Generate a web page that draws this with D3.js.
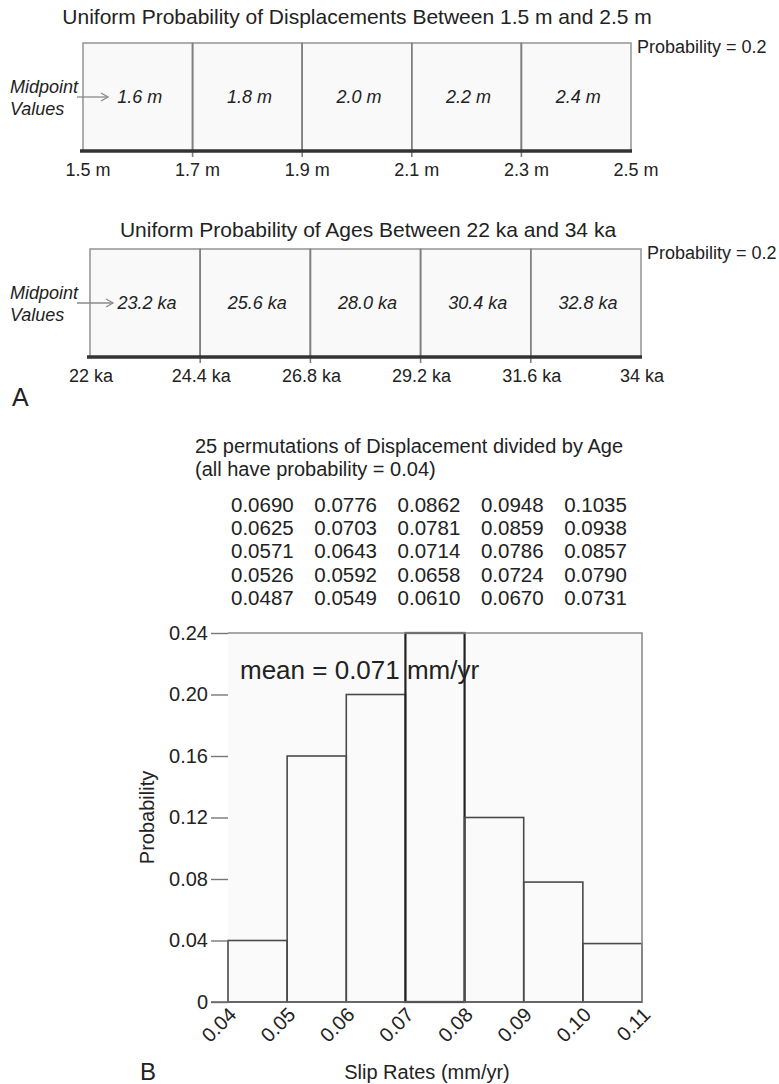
<!DOCTYPE html>
<html>
<head>
<meta charset="utf-8">
<script src="https://cdn.jsdelivr.net/npm/d3@7"></script>
<style>
  html, body { margin: 0; padding: 0; background: #fff; }
  svg { display: block; font-family: "Liberation Sans", Arial, Helvetica, sans-serif; }
</style>
</head>
<body>
<svg id="fig" width="779" height="1084"></svg>
<script>
// ---- Panel A: uniform bins for displacement and age ----
const dispEdges = [1.5, 1.7, 1.9, 2.1, 2.3, 2.5];
const dispMids = [1.6, 1.8, 2.0, 2.2, 2.4];
const ageEdges = [22, 24.4, 26.8, 29.2, 31.6, 34];
const ageMids = [23.2, 25.6, 28.0, 30.4, 32.8];
const binProbability = 0.2;

// ---- Panel B: displacement / age permutations (rows by age, columns by displacement) ----
const slipRateTable = [
  ["0.0690", "0.0776", "0.0862", "0.0948", "0.1035"],
  ["0.0625", "0.0703", "0.0781", "0.0859", "0.0938"],
  ["0.0571", "0.0643", "0.0714", "0.0786", "0.0857"],
  ["0.0526", "0.0592", "0.0658", "0.0724", "0.0790"],
  ["0.0487", "0.0549", "0.0610", "0.0670", "0.0731"]
];
const histBinStarts = [0.04, 0.05, 0.06, 0.07, 0.08, 0.09, 0.10];
const histProbs = [0.04, 0.16, 0.20, 0.24, 0.12, 0.078, 0.038];
const histBinWidth = 0.01;
const slipTicks = [0.04, 0.05, 0.06, 0.07, 0.08, 0.09, 0.10, 0.11];
const probTicks = [0, 0.04, 0.08, 0.12, 0.16, 0.20, 0.24];
const meanSlip = 0.071;

const svg = d3.select("#fig");

// Draws one uniform-probability strip
function uniformStrip(cfg) {
  const g = svg.append("g");
  const x = d3.scaleLinear().domain(cfg.domain).range([cfg.left, cfg.right]);
  const y = d3.scaleLinear().domain([0, binProbability]).range([cfg.base, cfg.top]);

  g.append("text")
    .attr("x", cfg.titleX).attr("y", cfg.titleY)
    .attr("text-anchor", "middle")
    .attr("font-size", 21).attr("fill", "#222")
    .text(cfg.title);

  const bins = d3.pairs(cfg.edges);
  g.selectAll("rect.bin").data(bins).join("rect")
    .attr("class", "bin")
    .attr("x", d => x(d[0])).attr("y", y(binProbability))
    .attr("width", d => x(d[1]) - x(d[0]))
    .attr("height", y(0) - y(binProbability))
    .attr("fill", "#f9f9f9")
    .attr("stroke", "#9a9a9a").attr("stroke-width", 1.6);

  // bin dividers that reach just below the base line
  g.selectAll("line.div").data(cfg.edges.slice(1, -1)).join("line")
    .attr("class", "div")
    .attr("x1", d => x(d)).attr("x2", d => x(d))
    .attr("y1", y(binProbability)).attr("y2", y(0) + 6)
    .attr("stroke", "#808080").attr("stroke-width", 1.6);

  g.append("line")
    .attr("x1", x(cfg.domain[0]) - 3).attr("x2", x(cfg.domain[1]) + 1)
    .attr("y1", y(0)).attr("y2", y(0))
    .attr("stroke", "#333").attr("stroke-width", 3.5);

  g.selectAll("text.tick").data(cfg.edges).join("text")
    .attr("class", "tick")
    .attr("x", d => x(d) + cfg.tickShift).attr("y", y(0) + 25)
    .attr("text-anchor", "middle")
    .attr("font-size", 18).attr("fill", "#222")
    .text(cfg.tickFmt);

  g.selectAll("text.mid").data(cfg.mids).join("text")
    .attr("class", "mid")
    .attr("x", d => x(d) + 2).attr("y", cfg.midY)
    .attr("text-anchor", "middle")
    .attr("font-size", 18).attr("font-style", "italic").attr("fill", "#222")
    .text(cfg.midFmt);

  g.append("text")
    .attr("x", cfg.right + 6).attr("y", y(binProbability) + 10)
    .attr("font-size", 18).attr("fill", "#222")
    .text("Probability = " + binProbability);

  const lab = g.append("text")
    .attr("font-size", 18).attr("font-style", "italic").attr("fill", "#222");
  lab.append("tspan").attr("x", 10).attr("y", cfg.midY - 10).text("Midpoint");
  lab.append("tspan").attr("x", 10).attr("y", cfg.midY + 12).text("Values");

  // arrow pointing into first bin
  const ay = cfg.midY - 6;
  g.append("line")
    .attr("x1", 77).attr("x2", cfg.arrowEnd)
    .attr("y1", ay).attr("y2", ay)
    .attr("stroke", "#8a8a8a").attr("stroke-width", 1.3);
  g.append("path")
    .attr("d", `M${cfg.arrowEnd - 7},${ay - 4} L${cfg.arrowEnd},${ay} L${cfg.arrowEnd - 7},${ay + 4}`)
    .attr("fill", "none").attr("stroke", "#8a8a8a").attr("stroke-width", 1.3);
}

uniformStrip({
  title: "Uniform Probability of Displacements Between 1.5 m and 2.5 m",
  titleX: 357, titleY: 24,
  domain: [1.5, 2.5], edges: dispEdges, mids: dispMids,
  left: 83, right: 631, top: 43, base: 151, midY: 103, arrowEnd: 108, tickShift: 5,
  tickFmt: d => d.toFixed(1) + " m",
  midFmt: d => d.toFixed(1) + " m"
});

uniformStrip({
  title: "Uniform Probability of Ages Between 22 ka and 34 ka",
  titleX: 368, titleY: 237,
  domain: [22, 34], edges: ageEdges, mids: ageMids,
  left: 90, right: 641, top: 249, base: 357, midY: 309, arrowEnd: 113, tickShift: 1,
  tickFmt: d => (Number.isInteger(d) ? d : d.toFixed(1)) + " ka",
  midFmt: d => d.toFixed(1) + " ka"
});

svg.append("text")
  .attr("x", 12).attr("y", 406)
  .attr("font-size", 25).attr("fill", "#222")
  .text("A");

// ---- Panel B ----
const hdr = svg.append("text").attr("font-size", 20).attr("fill", "#222");
hdr.append("tspan").attr("x", 195).attr("y", 453).text("25 permutations of Displacement divided by Age");
hdr.append("tspan").attr("x", 195).attr("y", 476).text("(all have probability = 0.04)");

const tbl = svg.append("g");
slipRateTable.forEach((row, i) => {
  tbl.selectAll(null).data(row).join("text")
    .attr("x", (d, j) => 231 + j * 83.3)
    .attr("y", 512 + i * 23.2)
    .attr("font-size", 20.5).attr("fill", "#222")
    .text(d => d);
});

const xS = d3.scaleLinear().domain([0.04, 0.11]).range([228, 642]);
const yS = d3.scaleLinear().domain([0, 0.24]).range([1002, 633]);

// plot background
svg.append("rect")
  .attr("x", xS(0.04)).attr("y", yS(0.24))
  .attr("width", xS(0.11) - xS(0.04)).attr("height", yS(0) - yS(0.24))
  .attr("fill", "#fafafa");

// histogram bars
svg.append("g").selectAll("rect").data(histBinStarts.map((s, i) => ({ s, p: histProbs[i] })))
  .join("rect")
  .attr("x", d => xS(d.s)).attr("y", d => yS(d.p))
  .attr("width", d => xS(d.s + histBinWidth) - xS(d.s))
  .attr("height", d => yS(0) - yS(d.p))
  .attr("fill", "none")
  .attr("stroke", d => d.p >= 0.24 ? "#222" : "#4a4a4a")
  .attr("stroke-width", d => d.p >= 0.24 ? 2.2 : 1.6);

// frame outline on top of the bars
svg.append("path")
  .attr("d", `M${xS(0.04)},${yS(0.24)} H${xS(0.11)} V${yS(0)}`)
  .attr("fill", "none").attr("stroke", "#8c8c8c").attr("stroke-width", 1.6);

// y axis with long outward ticks
const yAxis = svg.append("g")
  .attr("transform", `translate(${xS(0.04)},0)`)
  .call(d3.axisLeft(yS).tickValues(probTicks).tickSize(17).tickPadding(3)
    .tickFormat(d => d === 0 ? "0" : d.toFixed(2)));
yAxis.select(".domain").remove();
yAxis.selectAll("line").attr("stroke", "#777").attr("stroke-width", 1.4);
yAxis.selectAll("text").attr("font-size", 20).attr("fill", "#222")
  .attr("font-family", "Liberation Sans, Arial, sans-serif");

// baseline
svg.append("line")
  .attr("x1", xS(0.04) - 17).attr("x2", xS(0.11))
  .attr("y1", yS(0)).attr("y2", yS(0))
  .attr("stroke", "#666").attr("stroke-width", 1.6);

// rotated x tick labels
const xAxis = svg.append("g")
  .attr("transform", `translate(0,${yS(0)})`)
  .call(d3.axisBottom(xS).tickValues(slipTicks).tickSize(0).tickFormat(d => d.toFixed(2)));
xAxis.select(".domain").remove();
xAxis.selectAll("text")
  .attr("font-size", 20).attr("fill", "#222")
  .attr("font-family", "Liberation Sans, Arial, sans-serif")
  .attr("text-anchor", "end")
  .attr("dy", null).attr("y", 0)
  .attr("transform", "translate(9,14) rotate(-45)");

svg.append("text")
  .attr("x", xS(0.04) + 12).attr("y", 679)
  .attr("font-size", 26).attr("fill", "#222")
  .text("mean = " + meanSlip + " mm/yr");

svg.append("text")
  .attr("transform", `translate(154,${(yS(0) + yS(0.24)) / 2}) rotate(-90)`)
  .attr("text-anchor", "middle")
  .attr("font-size", 20).attr("fill", "#222")
  .text("Probability");

svg.append("text")
  .attr("x", 427).attr("y", 1079)
  .attr("text-anchor", "middle")
  .attr("font-size", 20).attr("fill", "#222")
  .text("Slip Rates (mm/yr)");

svg.append("text")
  .attr("x", 140).attr("y", 1080)
  .attr("font-size", 24).attr("fill", "#222")
  .text("B");
</script>
</body>
</html>
